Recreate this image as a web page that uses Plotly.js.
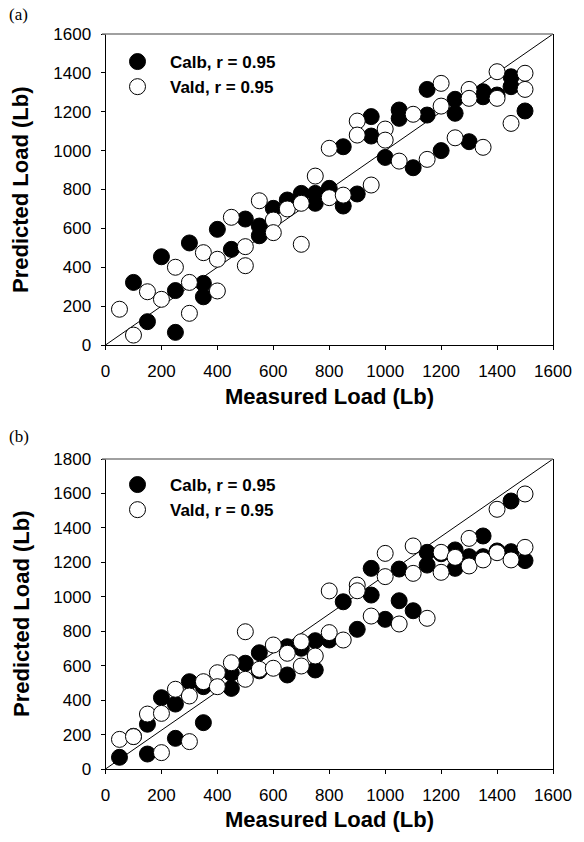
<!DOCTYPE html>
<html>
<head>
<meta charset="utf-8">
<script src="https://cdn.plot.ly/plotly-3.0.1.min.js"></script>
<style>html,body{margin:0;padding:0;background:#fff;}#chart{width:584px;height:842px;}</style>
</head>
<body>
<div id="chart"></div>
<script>
// ---- Panel (a) data ----
const aCalbX = [100,150,200,250,250,300,350,350,400,450,500,550,550,600,650,700,750,750,800,850,850,900,950,950,1000,1050,1050,1100,1150,1150,1200,1250,1250,1300,1350,1350,1400,1450,1450,1500];
const aCalbY = [322,120,454,280,65,525,317,248,595,492,648,612,562,703,746,780,780,729,806,715,1020,777,1175,1075,965,1209,1166,912,1315,1183,1000,1264,1192,1046,1303,1277,1286,1380,1329,1204];
const aValdX = [50,100,150,200,250,300,300,350,400,400,450,500,500,550,600,600,650,700,700,750,800,800,850,900,900,950,1000,1000,1050,1100,1150,1200,1200,1250,1300,1300,1350,1400,1400,1450,1500,1500];
const aValdY = [184,51,274,235,400,322,163,475,441,278,657,506,408,742,643,578,700,729,518,869,1012,758,771,1152,1080,823,1111,1054,946,1187,955,1346,1229,1066,1315,1269,1017,1406,1269,1140,1398,1315];
const aLineX = [0,1600];
const aLineY = [0,1600];

// ---- Panel (b) data ----
const bCalbX = [50,100,150,150,200,250,250,300,350,350,450,450,500,550,550,650,650,700,750,750,800,850,900,950,950,1000,1050,1050,1100,1150,1150,1200,1250,1250,1300,1350,1350,1400,1450,1450,1500];
const bCalbY = [68,190,87,260,414,178,377,507,269,478,468,556,614,675,570,546,710,701,745,575,749,971,811,1165,1010,869,1161,977,919,1258,1184,1250,1272,1165,1233,1353,1233,1266,1556,1262,1210];
const bValdX = [50,100,150,200,200,250,300,300,350,400,400,450,500,500,550,600,600,650,700,700,750,800,800,850,900,900,950,1000,1000,1050,1100,1100,1150,1200,1200,1250,1300,1300,1350,1400,1400,1450,1500,1500];
const bValdY = [172,188,319,323,95,463,424,159,507,559,478,617,797,521,579,720,585,672,739,598,656,1034,792,749,1068,1035,888,1252,1117,842,1295,1136,875,1258,1142,1229,1339,1179,1214,1508,1256,1214,1597,1287];
const bLineX = [0,1600];
const bLineY = [0,1800];

const tickVals = [0,200,400,600,800,1000,1200,1400,1600,1800];
const seriesNames = ['Calb, r = 0.95','Vald, r = 0.95'];
const xTitle = 'Measured Load (Lb)';
const yTitle = 'Predicted Load (Lb)';

const FONT = 'Liberation Sans, Arial, sans-serif';
const W = 584, H = 842;
const px = v => v / W;
const py = v => 1 - v / H;

function filled(x, y, xa, ya, leg) {
  return {x: x, y: y, xaxis: xa, yaxis: ya, type: 'scatter', mode: 'markers', name: seriesNames[0], legend: leg,
    marker: {symbol: 'circle', size: 16, color: '#000', line: {color: '#000', width: 1}}};
}
function open(x, y, xa, ya, leg) {
  return {x: x, y: y, xaxis: xa, yaxis: ya, type: 'scatter', mode: 'markers', name: seriesNames[1], legend: leg,
    marker: {symbol: 'circle', size: 16, color: '#fff', line: {color: '#000', width: 1}}};
}
function diag(x, y, xa, ya) {
  return {x: x, y: y, xaxis: xa, yaxis: ya, type: 'scatter', mode: 'lines', showlegend: false, hoverinfo: 'skip',
    line: {color: '#000', width: 1}};
}

const data = [
  diag(aLineX, aLineY, 'x', 'y'),
  filled(aCalbX, aCalbY, 'x', 'y', 'legend'),
  open(aValdX, aValdY, 'x', 'y', 'legend'),
  diag(bLineX, bLineY, 'x2', 'y2'),
  filled(bCalbX, bCalbY, 'x2', 'y2', 'legend2'),
  open(bValdX, bValdY, 'x2', 'y2', 'legend2')
];

function xAxis(anchor) {
  return {anchor: anchor, domain: [px(105.5), px(553)], range: [0, 1600], tickvals: tickVals.slice(0, 9),
    showgrid: false, zeroline: false, showline: true, linecolor: '#000', linewidth: 1,
    ticks: 'outside', ticklen: 4, tickcolor: '#000', tickwidth: 1,
    tickfont: {family: FONT, size: 17, color: '#000'}, automargin: false, ticklabelstandoff: 7};
}
function yAxis(anchor, dom, max) {
  return {anchor: anchor, domain: dom, range: [0, max], tickvals: tickVals.filter(v => v <= max),
    showgrid: false, zeroline: false, showline: true, linecolor: '#000', linewidth: 1, mirror: true,
    ticks: 'outside', ticklen: 4, tickcolor: '#000', tickwidth: 1,
    tickfont: {family: FONT, size: 17, color: '#000'}, automargin: false, ticklabelstandoff: 6};
}

const legendStyle = {font: {family: FONT, size: 17, color: '#000', weight: 'bold'}, bgcolor: 'rgba(0,0,0,0)',
  borderwidth: 0, itemwidth: 55, xanchor: 'left', yanchor: 'top', tracegroupgap: 0, itemclick: false};

const titleFont = {family: FONT, size: 22, color: '#000', weight: 'bold'};
function ann(text, x, y, angle) {
  return {text: text, xref: 'paper', yref: 'paper', x: px(x), y: py(y), xanchor: 'center', yanchor: 'middle',
    showarrow: false, textangle: angle, font: titleFont};
}

const layout = {
  width: W, height: H, margin: {l: 0, r: 0, t: 0, b: 0}, paper_bgcolor: '#fff', plot_bgcolor: '#fff',
  showlegend: true,
  xaxis: xAxis('y'),
  yaxis: yAxis('x', [py(345), py(34)], 1600),
  xaxis2: xAxis('y2'),
  yaxis2: yAxis('x2', [py(769), py(459)], 1800),
  legend: Object.assign({x: px(105), y: py(44)}, legendStyle),
  legend2: Object.assign({x: px(105), y: py(467)}, legendStyle),
  shapes: [
    {type: 'line', xref: 'paper', yref: 'paper', x0: px(102), x1: px(553), y0: py(34), y1: py(34), line: {color: '#808080', width: 1.5}},
    {type: 'line', xref: 'paper', yref: 'paper', x0: px(102), x1: px(553), y0: py(459), y1: py(459), line: {color: '#808080', width: 1.5}}
  ],
  annotations: [
    {text: '(a)', xref: 'paper', yref: 'paper', x: px(7), y: py(15), xanchor: 'left', yanchor: 'middle', showarrow: false,
      font: {family: 'Liberation Serif, Times New Roman, serif', size: 17, color: '#000'}},
    {text: '(b)', xref: 'paper', yref: 'paper', x: px(7), y: py(437), xanchor: 'left', yanchor: 'middle', showarrow: false,
      font: {family: 'Liberation Serif, Times New Roman, serif', size: 17, color: '#000'}},
    ann(xTitle, 329, 396, 0),
    ann(yTitle, 21, 190, -90),
    ann(xTitle, 329, 819, 0),
    ann(yTitle, 21, 614, -90)
  ]
};

Plotly.newPlot('chart', data, layout, {staticPlot: true, displayModeBar: false});
</script>
</body>
</html>
